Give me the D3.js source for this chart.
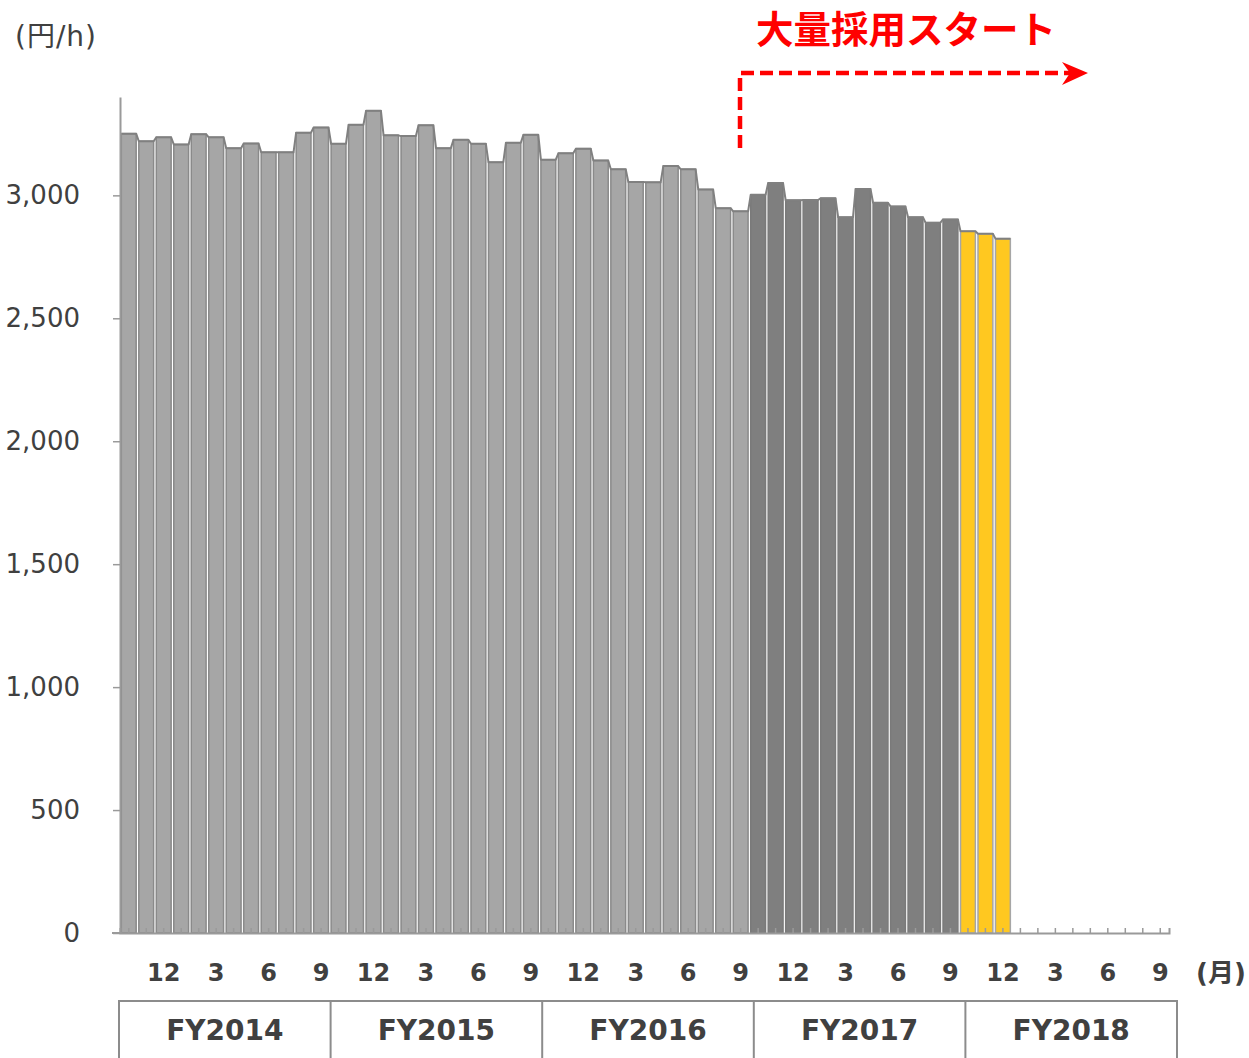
<!DOCTYPE html>
<html>
<head>
<meta charset="utf-8">
<script src="https://cdn.jsdelivr.net/npm/d3@7"></script>
<style>
  html, body { margin: 0; padding: 0; background: #ffffff; }
  svg { display: block; font-family: "DejaVu Sans", "Noto Sans CJK JP", sans-serif; }
</style>
</head>
<body>
<svg id="chart" width="1249" height="1058"></svg>
<script>
// ---- data ----
const fiscalYears = ["FY2014", "FY2015", "FY2016", "FY2017", "FY2018"];
const monthOrder = [10, 11, 12, 1, 2, 3, 4, 5, 6, 7, 8, 9];
const labeledMonths = [12, 3, 6, 9];
const yTicks = [0, 500, 1000, 1500, 2000, 2500, 3000];
// hourly wage (円/h), Oct 2014 – Dec 2018
const wagesFY2014 = [3251, 3220, 3236, 3207, 3249, 3236, 3192, 3211, 3175, 3175, 3255, 3276];
const wagesFY2015 = [3210, 3287, 3344, 3244, 3241, 3285, 3192, 3226, 3210, 3135, 3214, 3246];
const wagesFY2016 = [3145, 3171, 3190, 3142, 3106, 3054, 3053, 3119, 3106, 3024, 2948, 2935];
const wagesFY2017 = [3002, 3050, 2980, 2981, 2988, 2911, 3026, 2970, 2955, 2911, 2889, 2902];
const wagesFY2018 = [2854, 2844, 2824];
const seriesByFY = [wagesFY2014, wagesFY2015, wagesFY2016, wagesFY2017, wagesFY2018];
const groupOfFY = ["light", "light", "light", "dark", "yellow"];

const fill = { light: "#a6a6a6", dark: "#7f7f7f", yellow: "#ffc820" };
const stroke = { light: "#8a8a8a", dark: "#7a7a7a", yellow: "#a6a6a6" };

// build category list (all 60 months) and data points
const categories = [];
fiscalYears.forEach((fy, fi) => monthOrder.forEach(m => categories.push(fy + "-" + m)));
const points = [];
seriesByFY.forEach((arr, fi) => arr.forEach((v, mi) => {
  points.push({ key: fiscalYears[fi] + "-" + monthOrder[mi], month: monthOrder[mi], value: v, group: groupOfFY[fi] });
}));

const svg = d3.select("#chart");
const x = d3.scaleBand().domain(categories).range([120, 1169]).paddingInner(0.15).paddingOuter(0.075);
const y = d3.scaleLinear().domain([0, 3400]).range([933, 97]);
const textColor = "#404040";
const axisColor = "#9a9a9a";

// bars
svg.append("g").selectAll("rect").data(points).join("rect")
  .attr("x", d => x(d.key))
  .attr("y", d => y(d.value))
  .attr("width", x.bandwidth())
  .attr("height", d => y(0) - y(d.value))
  .attr("fill", d => fill[d.group])
  .attr("stroke", d => stroke[d.group])
  .attr("stroke-width", 1.5);

// connecting line over bar tops
const topPts = [];
points.forEach(d => {
  topPts.push([x(d.key), y(d.value)]);
  topPts.push([x(d.key) + x.bandwidth(), y(d.value)]);
});
svg.append("path")
  .attr("d", d3.line()(topPts))
  .attr("fill", "none")
  .attr("stroke", "#808080")
  .attr("stroke-width", 2)
  .attr("stroke-linejoin", "round");

// y axis
const yAxis = svg.append("g").attr("transform", "translate(120,0)")
  .call(d3.axisLeft(y).tickValues(yTicks).tickFormat(d3.format(",")).tickSize(7).tickSizeOuter(0).tickPadding(33));
yAxis.select(".domain").attr("stroke", axisColor).attr("stroke-width", 2);
yAxis.selectAll(".tick line").attr("stroke", axisColor).attr("stroke-width", 1.5);
yAxis.selectAll(".tick text").attr("fill", textColor).style("font-size", "26px").attr("font-family", "DejaVu Sans");

// x axis
const xAxis = svg.append("g").attr("transform", "translate(0,933)")
  .call(d3.axisBottom(x)
    .tickSize(-5).tickSizeOuter(-5).tickPadding(31)
    .tickFormat(k => { const m = +k.split("-")[1]; return labeledMonths.includes(m) ? String(m) : ""; }));
xAxis.select(".domain").attr("stroke", axisColor).attr("stroke-width", 2);
xAxis.selectAll(".tick line").attr("stroke", axisColor).attr("stroke-width", 1.5);
xAxis.selectAll(".tick text").attr("fill", textColor).style("font-size", "24px").style("font-weight", "bold").attr("font-family", "DejaVu Sans");
svg.append("line").attr("x1", 112).attr("x2", 121).attr("y1", 933).attr("y2", 933)
  .attr("stroke", axisColor).attr("stroke-width", 2);

// (月)
svg.append("text").attr("x", 1196).attr("y", 982).text("(月)")
  .attr("fill", textColor).style("font-size", "26px").style("font-weight", "bold");

// unit
svg.append("text").attr("x", 15).attr("y", 46).text("(円/h)")
  .attr("fill", textColor).style("font-size", "28px").style("letter-spacing", "1px");

// fiscal year table
const fy = d3.scaleBand().domain(fiscalYears).range([119, 1177]);
const tbl = svg.append("g");
tbl.append("line").attr("x1", 119).attr("x2", 1177).attr("y1", 1001).attr("y2", 1001)
  .attr("stroke", "#8c8c8c").attr("stroke-width", 2);
const edges = fiscalYears.map(f => fy(f)).concat([fy.range()[1]]);
tbl.selectAll("line.v").data(edges).join("line").attr("class", "v")
  .attr("x1", d => d).attr("x2", d => d).attr("y1", 1000).attr("y2", 1058)
  .attr("stroke", "#8c8c8c").attr("stroke-width", 2);
tbl.selectAll("text").data(fiscalYears).join("text")
  .attr("x", d => fy(d) + fy.bandwidth() / 2).attr("y", 1040)
  .attr("text-anchor", "middle").text(d => d)
  .attr("fill", textColor).style("font-size", "28px").style("font-weight", "bold");

// annotation
svg.append("text").attr("x", 906).attr("y", 43).attr("text-anchor", "middle")
  .text("大量採用スタート")
  .attr("fill", "#ff0000").style("font-size", "37.5px").style("font-weight", "bold")
  .attr("font-family", "Noto Sans CJK JP");
svg.append("path")
  .attr("d", "M740,148 L740,73 L1070,73")
  .attr("fill", "none").attr("stroke", "#ff0000").attr("stroke-width", 4.5)
  .attr("stroke-dasharray", "13,6");
svg.append("path")
  .attr("d", "M1062,62 L1088,73 L1062,85 L1070,73 Z")
  .attr("fill", "#ff0000");
</script>
</body>
</html>
